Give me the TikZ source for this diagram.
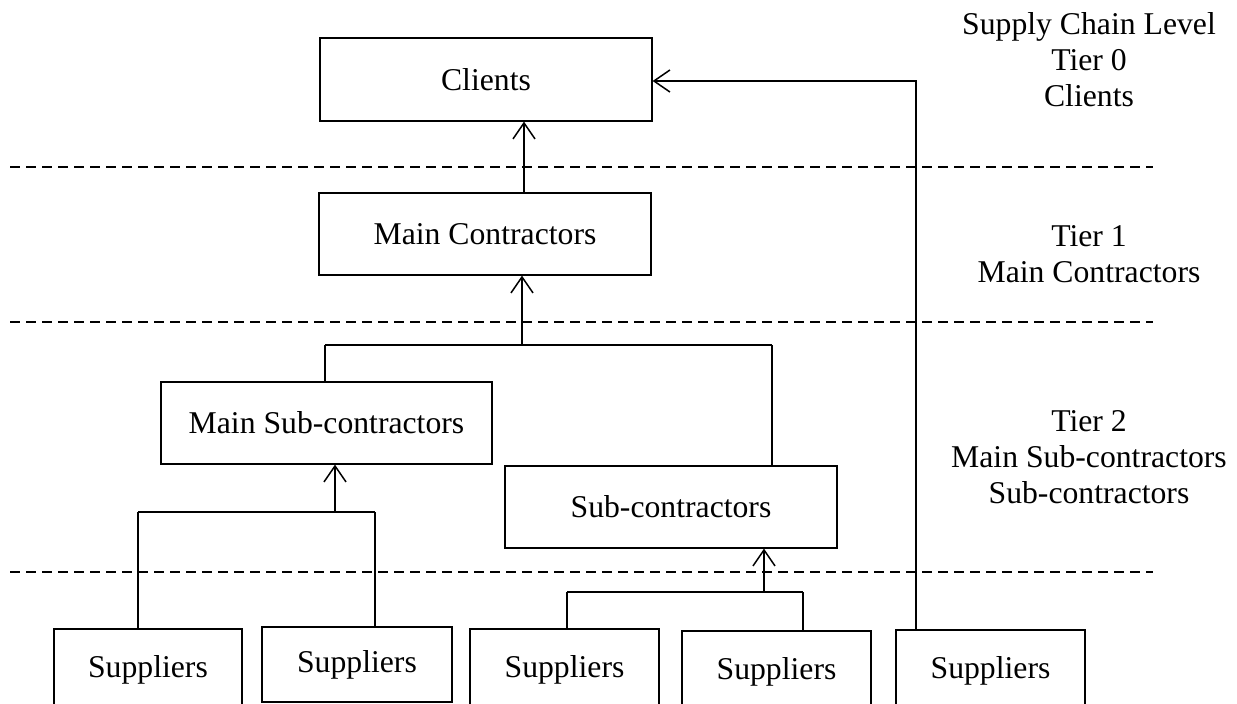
\documentclass[tikz,border=0pt]{standalone}
\usepackage{fontspec}
\setmainfont{Liberation Serif}
\usetikzlibrary{arrows.meta}
\begin{document}
\begin{tikzpicture}[x=1pt,y=-1pt,
  every node/.style={font=\fontsize{31.7}{36}\selectfont},
  box/.style={draw, line width=1.2pt, inner sep=0pt, anchor=center},
  link/.style={line width=1.5pt},
  uparrow/.style={link, -{Straight Barb[length=16pt,width=22pt,line width=1.5pt]}},
  tierline/.style={line width=1.5pt, dash pattern=on 10pt off 6pt},
  tierlabel/.style={align=center, anchor=center}]
  \path[use as bounding box, clip] (0,0) rectangle (1237,704);
  \fill[white] (0,0) rectangle (1237,704);

  % tier separators
  \draw[tierline] (10,167) -- (1153,167);
  \draw[tierline] (10,322) -- (1153,322);
  \draw[tierline] (10,572) -- (1153,572);

  % organisations
  \node[box, minimum width=332pt, minimum height=83pt] (clients) at (486,79.5) {Clients};
  \node[box, minimum width=332pt, minimum height=82pt] (mainc) at (485,234) {Main Contractors};
  \node[box, minimum width=331pt, minimum height=82pt] (mainsub) at (326.5,423) {Main Sub-contractors};
  \node[box, minimum width=332pt, minimum height=82pt] (sub) at (671,507) {Sub-contractors};
  \node[box, minimum width=188pt, minimum height=82pt] (sup1) at (148,670) {Suppliers};
  \node[box, minimum width=190pt, minimum height=75pt] (sup2) at (357,664.5) {Suppliers};
  \node[box, minimum width=189pt, minimum height=82pt] (sup3) at (564.5,670) {Suppliers};
  \node[box, minimum width=189pt, minimum height=82pt] (sup4) at (776.5,672) {Suppliers};
  \node[box, minimum width=189pt, minimum height=82pt] (sup5) at (990.5,671) {Suppliers};

  % tier labels
  \node[tierlabel] (lvl0) at (1089,60) {Supply Chain Level\\Tier 0\\Clients};
  \node[tierlabel] (lvl1) at (1089,254) {Tier 1\\Main Contractors};
  \node[tierlabel] (lvl2) at (1089,457) {Tier 2\\Main Sub-contractors\\Sub-contractors};

  % junction points
  \coordinate (a0) at (524,0);
  \coordinate (j1) at (522,345);
  \coordinate (j1l) at (325,345);
  \coordinate (j1r) at (772,345);
  \coordinate (j2) at (335,512);
  \coordinate (j2l) at (138,512);
  \coordinate (j2r) at (375,512);
  \coordinate (j3) at (764,592);
  \coordinate (j3l) at (567,592);
  \coordinate (j3r) at (803,592);
  \coordinate (r5) at (916,81);

  % main contractors to clients
  \draw[uparrow] (mainc.north -| a0) -- (clients.south -| a0);

  % tier 2 into main contractors
  \draw[link] (j1l) -- (j1r);
  \draw[uparrow] (j1) -- (mainc.south -| j1);
  \draw[link] (j1l) -- (mainsub.north -| j1l);
  \draw[link] (j1r) -- (sub.north -| j1r);

  % suppliers into main sub-contractors
  \draw[link] (j2l) -- (j2r);
  \draw[uparrow] (j2) -- (mainsub.south -| j2);
  \draw[link] (j2l) -- (sup1.north -| j2l);
  \draw[link] (j2r) -- (sup2.north -| j2r);

  % suppliers into sub-contractors
  \draw[link] (j3l) -- (j3r);
  \draw[uparrow] (j3) -- (sub.south -| j3);
  \draw[link] (j3l) -- (sup3.north -| j3l);
  \draw[link] (j3r) -- (sup4.north -| j3r);

  % direct supply to clients
  \draw[uparrow] (sup5.north -| r5) -- (r5) -- (clients.east |- r5);
\end{tikzpicture}
\end{document}
